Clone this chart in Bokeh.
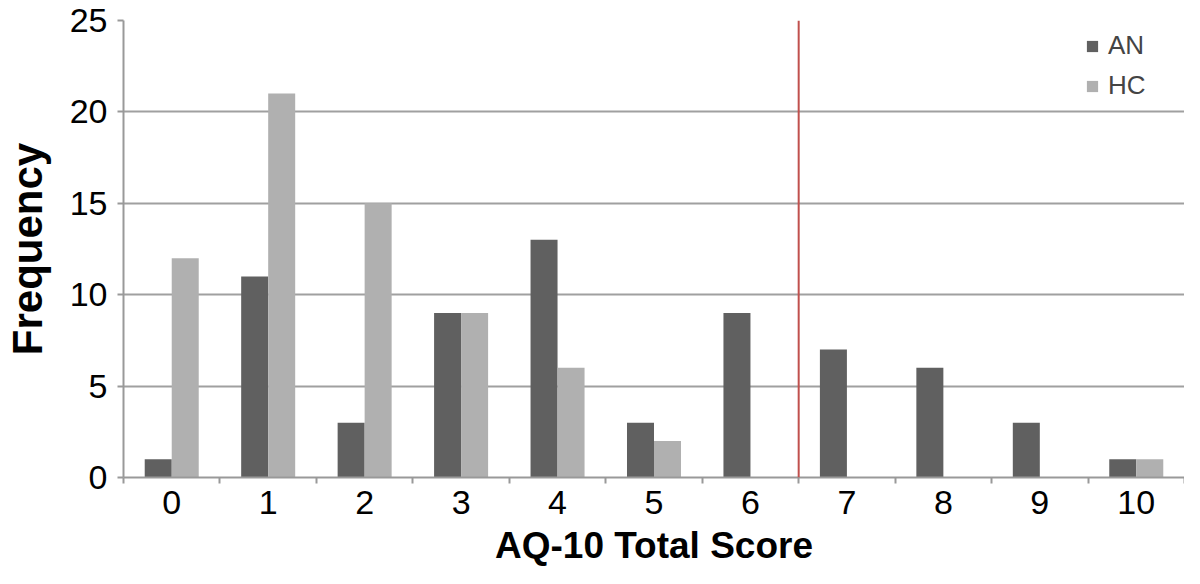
from bokeh.plotting import figure
from bokeh.models import ColumnDataSource, FixedTicker, Span, Legend, LegendItem
from bokeh.embed import file_html
from bokeh.resources import INLINE

scores = [0, 1, 2, 3, 4, 5, 6, 7, 8, 9, 10]
an_freq = [1, 11, 3, 9, 13, 3, 9, 7, 6, 3, 1]
hc_freq = [12, 21, 15, 9, 6, 2, 0, 0, 0, 0, 1]
cutoff = 6.5
y_ticks = [0, 5, 10, 15, 20, 25]

src = ColumnDataSource(dict(
    x_an=[s - 0.14 for s in scores],
    x_hc=[s + 0.14 for s in scores],
    an=an_freq, hc=hc_freq,
))

p = figure(width=1184, height=568, output_backend="svg", toolbar_location=None,
           x_range=(-0.5, 10.5), y_range=(0, 25),
           min_border_left=113, min_border_right=0, min_border_top=20, min_border_bottom=80)
p.outline_line_color = None
p.background_fill_color = "white"

r_an = p.vbar(x="x_an", top="an", width=0.28, source=src, color="#606060", line_color=None)
r_hc = p.vbar(x="x_hc", top="hc", width=0.28, source=src, color="#b0b0b0", line_color=None)

p.add_layout(Span(location=cutoff, dimension="height", line_color="#c0504d", line_width=2))

# axes
p.xaxis.ticker = FixedTicker(ticks=scores, minor_ticks=[s - 0.5 for s in scores] + [10.5])
p.xaxis.major_tick_line_color = None
p.xaxis.minor_tick_line_color = "#999999"
p.xaxis.minor_tick_line_width = 2
p.xaxis.minor_tick_out = 6
p.xaxis.minor_tick_in = 0
p.xaxis.axis_line_color = "#999999"
p.xaxis.axis_line_width = 2
p.xaxis.major_label_text_font = "Liberation Sans"
p.xaxis.major_label_text_font_size = "34px"
p.xaxis.major_label_text_color = "black"
p.xaxis.major_label_standoff = 7
p.xaxis.axis_label = "AQ-10 Total Score"
p.xaxis.axis_label_text_font = "Liberation Sans"
p.xaxis.axis_label_text_font_style = "bold"
p.xaxis.axis_label_text_font_size = "37px"
p.xaxis.axis_label_text_color = "black"
p.xaxis.axis_label_standoff = 8

p.yaxis.ticker = FixedTicker(ticks=y_ticks)
p.yaxis.minor_tick_line_color = None
p.yaxis.major_tick_line_color = "#999999"
p.yaxis.major_tick_line_width = 2
p.yaxis.major_tick_out = 6
p.yaxis.major_tick_in = 0
p.yaxis.axis_line_color = "#999999"
p.yaxis.axis_line_width = 2
p.yaxis.major_label_text_font = "Liberation Sans"
p.yaxis.major_label_text_font_size = "34px"
p.yaxis.major_label_text_color = "black"
p.yaxis.major_label_standoff = 10
p.yaxis.axis_label = "Frequency"
p.yaxis.axis_label_text_font = "Liberation Sans"
p.yaxis.axis_label_text_font_style = "bold"
p.yaxis.axis_label_text_font_size = "42px"
p.yaxis.axis_label_text_color = "black"
p.yaxis.axis_label_standoff = 16

p.xgrid.grid_line_color = None
p.ygrid.grid_line_color = "#a0a0a0"
p.ygrid.grid_line_width = 2

legend = Legend(items=[LegendItem(label="AN", renderers=[r_an]),
                       LegendItem(label="HC", renderers=[r_hc])],
                location=(962, 376))
legend.label_text_font = "Liberation Sans"
legend.label_text_font_size = "26px"
legend.glyph_width = 14
legend.glyph_height = 14
legend.label_standoff = 9
legend.spacing = 9
legend.border_line_color = None
legend.background_fill_alpha = 0
legend.margin = 0
legend.padding = 0
p.add_layout(legend)

open("out.html", "w").write(file_html(p, INLINE))
